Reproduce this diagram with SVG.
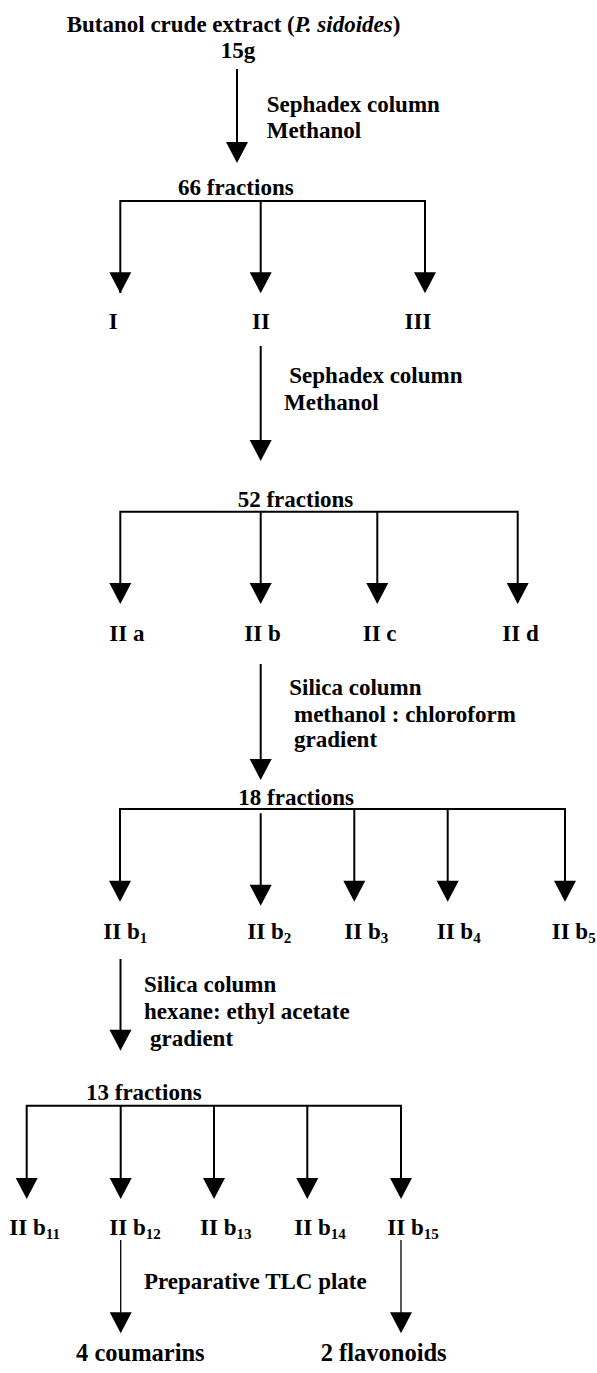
<svg xmlns="http://www.w3.org/2000/svg" xmlns:xlink="http://www.w3.org/1999/xlink" width="597" height="1373" viewBox="0 0 597 1373">
<style>
text{font-family:"Liberation Serif","Times New Roman",serif;font-weight:bold;font-size:23px;fill:#000}
.sub{font-size:15px}
.c{text-anchor:middle}
.big{font-size:24.5px}
.ln{stroke:#000;stroke-width:2;fill:none}
.thin{stroke:#000;stroke-width:1.3;fill:none}
</style>
<defs>
<path id="ah" d="M-11,-21 L11,-21 L0,0 Z" fill="#000"/>
</defs>
<rect width="597" height="1373" fill="#fff"/>
<g id="connectors">
<path class="ln" d="M237,69 V143"/>
<use xlink:href="#ah" x="237" y="163"/>
<path class="ln" d="M120.3,293 V201 H425 V274 M260.7,201 V274 M120.3,201 V274"/>
<use xlink:href="#ah" x="120.3" y="293.3"/>
<use xlink:href="#ah" x="260.7" y="293.3"/>
<use xlink:href="#ah" x="425" y="293.3"/>
<path class="ln" d="M260.7,346 V442"/>
<use xlink:href="#ah" x="260.7" y="461"/>
<path class="ln" d="M120.3,585 V511.7 H517.7 V585 M260.7,511.7 V585 M377.3,511.7 V585"/>
<use xlink:href="#ah" x="120.3" y="604"/>
<use xlink:href="#ah" x="260.7" y="604"/>
<use xlink:href="#ah" x="377.3" y="604"/>
<use xlink:href="#ah" x="517.7" y="604"/>
<path class="ln" d="M260.7,664 V761"/>
<use xlink:href="#ah" x="260.7" y="780"/>
<path class="ln" d="M120,882 V809 H565 V882 M354.3,809 V882 M447.7,809 V882 M260.7,813.3 V886"/>
<use xlink:href="#ah" x="120" y="901.7"/>
<use xlink:href="#ah" x="260.7" y="905.7"/>
<use xlink:href="#ah" x="354.3" y="901.7"/>
<use xlink:href="#ah" x="447.7" y="901.7"/>
<use xlink:href="#ah" x="565" y="901.7"/>
<path class="ln" d="M120.5,959 V1031"/>
<use xlink:href="#ah" x="120.5" y="1050.7"/>
<path class="ln" d="M26.7,1179 V1105.7 H401 V1179 M120.7,1105.7 V1179 M214,1105.7 V1179 M307.3,1105.7 V1179"/>
<use xlink:href="#ah" x="26.7" y="1199"/>
<use xlink:href="#ah" x="120.7" y="1199"/>
<use xlink:href="#ah" x="214" y="1199"/>
<use xlink:href="#ah" x="307.3" y="1199"/>
<use xlink:href="#ah" x="401" y="1199"/>
<path class="thin" d="M120.7,1240 V1314 M401,1240 V1314"/>
<use xlink:href="#ah" x="120.7" y="1333.3"/>
<use xlink:href="#ah" x="401" y="1333.3"/>
</g>
<g id="n-start"><text x="66.7" y="31.7">Butanol crude extract (<tspan font-style="italic">P. sidoides</tspan>)</text><text x="220.7" y="58.3">15g</text></g>
<g id="l-step1"><text x="266.7" y="111.7">Sephadex column</text><text x="266.7" y="137.7">Methanol</text></g>
<g id="n-66"><text x="178" y="195">66 fractions</text></g>
<g id="n-I"><text class="c" x="113.3" y="329.3">I</text></g>
<g id="n-II"><text class="c" x="261" y="329.3">II</text></g>
<g id="n-III"><text class="c" x="418" y="329.3">III</text></g>
<g id="l-step2"><text x="289.3" y="383.3">Sephadex column</text><text x="284" y="410">Methanol</text></g>
<g id="n-52"><text x="237.7" y="506.7">52 fractions</text></g>
<g id="n-IIa"><text x="109.3" y="641">II a</text></g>
<g id="n-IIb"><text x="244.3" y="641">II b</text></g>
<g id="n-IIc"><text x="362.7" y="641">II c</text></g>
<g id="n-IId"><text x="502.3" y="641">II d</text></g>
<g id="l-step3"><text x="289.3" y="695">Silica column</text><text x="294" y="721.7">methanol : chloroform</text><text x="294" y="747.3">gradient</text></g>
<g id="n-18"><text x="238.3" y="805">18 fractions</text></g>
<g id="n-IIb1"><text x="103.3" y="939.3">II b<tspan class="sub" dy="4">1</tspan></text></g>
<g id="n-IIb2"><text x="247.3" y="939.3">II b<tspan class="sub" dy="4">2</tspan></text></g>
<g id="n-IIb3"><text x="344.3" y="939.3">II b<tspan class="sub" dy="4">3</tspan></text></g>
<g id="n-IIb4"><text x="436.7" y="939.3">II b<tspan class="sub" dy="4">4</tspan></text></g>
<g id="n-IIb5"><text x="551.7" y="939.3">II b<tspan class="sub" dy="4">5</tspan></text></g>
<g id="l-step4"><text x="144" y="992.3">Silica column</text><text x="144" y="1019.3">hexane: ethyl acetate</text><text x="150" y="1046">gradient</text></g>
<g id="n-13"><text x="86" y="1100">13 fractions</text></g>
<g id="n-IIb11"><text x="9.3" y="1235">II b<tspan class="sub" dy="4">11</tspan></text></g>
<g id="n-IIb12"><text x="109.3" y="1235">II b<tspan class="sub" dy="4">12</tspan></text></g>
<g id="n-IIb13"><text x="200" y="1235">II b<tspan class="sub" dy="4">13</tspan></text></g>
<g id="n-IIb14"><text x="294.3" y="1235">II b<tspan class="sub" dy="4">14</tspan></text></g>
<g id="n-IIb15"><text x="387.3" y="1235">II b<tspan class="sub" dy="4">15</tspan></text></g>
<g id="l-step5"><text x="144" y="1289">Preparative TLC plate</text></g>
<g id="n-coumarins"><text class="big" x="76" y="1361">4 coumarins</text></g>
<g id="n-flavonoids"><text class="big" x="320.7" y="1361">2 flavonoids</text></g>
</svg>
